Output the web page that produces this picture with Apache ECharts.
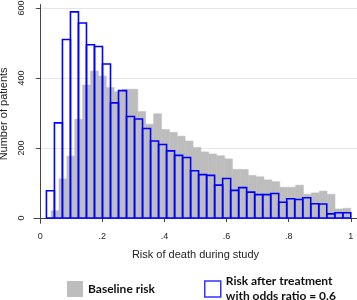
<!DOCTYPE html>
<html>
<head>
<meta charset="utf-8">
<script src="https://cdn.jsdelivr.net/npm/echarts@6/dist/echarts.min.js"></script>
<style>
  html, body { margin: 0; padding: 0; background: #fff; }
  #chart { width: 357px; height: 300px; }
</style>
</head>
<body>
<div id="chart"></div>
<script>
// histogram counts, 38 bins each
const baselineStart = 0.035
const baselineWidth = 0.025395
const baselineCounts = [
  21, 112, 177, 282, 380, 420, 406, 373, 361, 368, 368, 304, 268, 298, 253, 245,
  234, 220, 202, 189, 183, 178, 169, 139, 139, 122, 118, 109, 104, 88, 88, 94,
  68, 72, 77, 68, 26, 28,
]

const treatedStart = 0.02
const treatedWidth = 0.02579
const treatedCounts = [
  78, 272, 510, 589, 557, 495, 490, 440, 329, 364, 290, 283, 256, 220, 210, 192,
  179, 173, 135, 124, 122, 94, 113, 79, 87, 74, 67, 67, 70, 45, 55, 53,
  58, 41, 40, 12, 15, 15,
]

const xTickValues = [0, 0.2, 0.4, 0.6, 0.8, 1]
const xTickLabels = ['0', '.2', '.4', '.6', '.8', '1']
const yTickValues = [0, 200, 400, 600]

const baselineName = 'Baseline risk'
const treatedName = 'Risk after treatment\nwith odds ratio = 0.6'

// [binStart, binEnd, count]
function toBins(start, width, counts) {
  return counts.map((c, i) => [start + i * width, start + (i + 1) * width, c])
}

function barRenderer(style) {
  return (params, api) => {
    const topLeft = api.coord([api.value(0), api.value(2)])
    const bottomRight = api.coord([api.value(1), 0])
    return {
      type: 'rect',
      shape: {
        x: topLeft[0],
        y: topLeft[1],
        width: bottomRight[0] - topLeft[0],
        height: bottomRight[1] - topLeft[1],
      },
      style: style,
    }
  }
}

const chart = echarts.init(document.getElementById('chart'))

const option = {
  animation: false,
  // fixed plot box, no auto shrinking for labels
  grid: { left: 34, right: 0, top: 4.5, bottom: 76.7, outerBoundsMode: 'none' },
  xAxis: {
    type: 'value',
    min: -0.02,
    max: 1.02,
    name: 'Risk of death during study',
    nameLocation: 'middle',
    nameGap: 26,
    nameTextStyle: { fontFamily: 'Liberation Sans', fontSize: 11, color: '#222' },
    axisLine: { show: true, lineStyle: { color: '#444', width: 1 } },
    axisTick: { show: true, length: 4, customValues: xTickValues, lineStyle: { color: '#444' } },
    axisLabel: {
      customValues: xTickValues,
      margin: 9,
      fontFamily: 'Liberation Sans',
      fontSize: 9,
      color: '#222',
      formatter: (v) => xTickLabels[xTickValues.indexOf(v)] ?? '',
    },
    splitLine: { show: false },
  },
  yAxis: {
    type: 'value',
    min: -15,
    max: 610,
    name: 'Number of patients',
    nameLocation: 'middle',
    nameGap: 24,
    nameTextStyle: { fontFamily: 'Liberation Sans', fontSize: 11, color: '#222' },
    axisLine: { show: true, lineStyle: { color: '#444', width: 1 } },
    axisTick: { show: true, length: 4, customValues: yTickValues, lineStyle: { color: '#444' } },
    axisLabel: {
      customValues: yTickValues,
      rotate: 90,
      margin: 8,
      fontFamily: 'Liberation Sans',
      fontSize: 9,
      color: '#222',
    },
    splitLine: { show: true, lineStyle: { color: '#e6e6e6', width: 1 } },
  },
  legend: [
    {
      left: 67,
      top: 281,
      padding: 0,
      itemWidth: 16,
      itemHeight: 16,
      icon: 'rect',
      data: [{ name: baselineName, itemStyle: { color: '#bdbdbd' } }],
      textStyle: { fontFamily: 'Lato', fontWeight: 'bold', fontSize: 12, color: '#111' },
    },
    {
      left: 204,
      top: 274,
      padding: 0,
      itemWidth: 16,
      itemHeight: 16,
      icon: 'rect',
      data: [{ name: treatedName, itemStyle: { color: '#fff', borderColor: '#3333ff', borderWidth: 1.5 } }],
      textStyle: { fontFamily: 'Lato', fontWeight: 'bold', fontSize: 12, color: '#111', lineHeight: 15 },
    },
  ],
  series: [
    {
      name: baselineName,
      type: 'custom',
      renderItem: barRenderer({ fill: '#bdbdbd', stroke: '#bdbdbd', lineWidth: 0.5 }),
      encode: { x: [0, 1], y: 2 },
      itemStyle: { color: '#bdbdbd' },
      data: toBins(baselineStart, baselineWidth, baselineCounts),
    },
    {
      name: treatedName,
      type: 'custom',
      renderItem: barRenderer({ fill: 'none', stroke: '#0000ff', lineWidth: 1.6 }),
      encode: { x: [0, 1], y: 2 },
      itemStyle: { color: '#0000ff' },
      data: toBins(treatedStart, treatedWidth, treatedCounts),
    },
  ],
}

chart.setOption(option)
</script>
</body>
</html>
